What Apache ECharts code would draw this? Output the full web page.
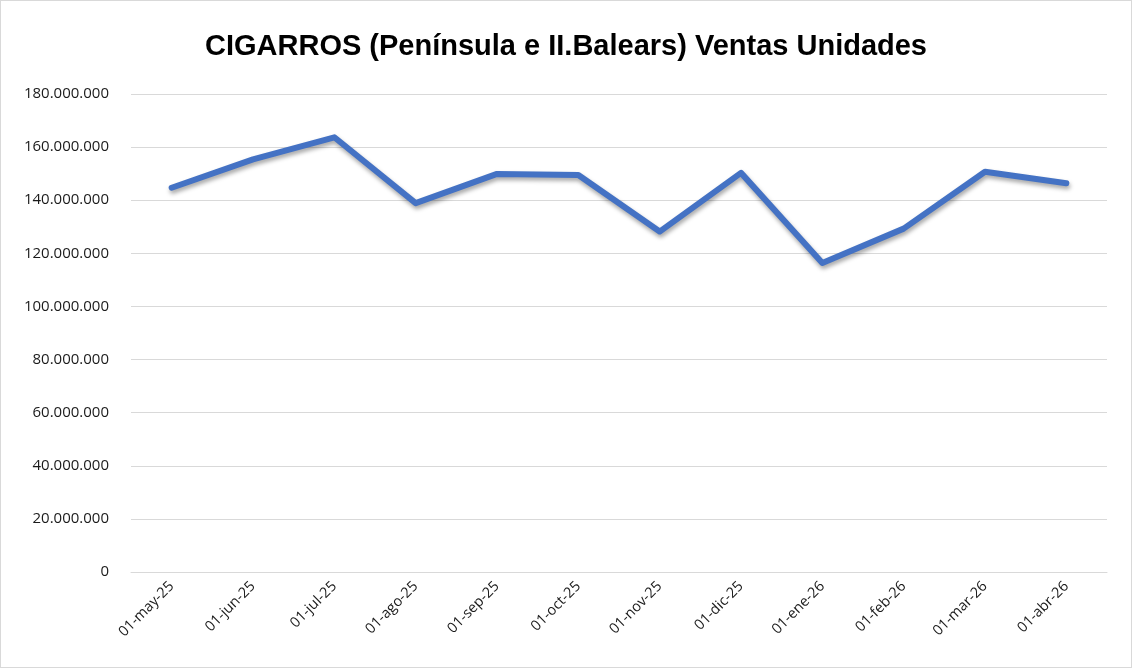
<!DOCTYPE html>
<html>
<head>
<meta charset="utf-8">
<script src="https://cdn.jsdelivr.net/npm/echarts@6/dist/echarts.min.js"></script>
<style>
  html, body { margin: 0; padding: 0; background: #fff; }
  #chart { width: 1132px; height: 668px; box-sizing: border-box; border: 1px solid #d9d9d9; }
</style>
</head>
<body>
<div id="chart"></div>
<script>
// chart data
const categories = ['01-may-25', '01-jun-25', '01-jul-25', '01-ago-25', '01-sep-25', '01-oct-25',
  '01-nov-25', '01-dic-25', '01-ene-26', '01-feb-26', '01-mar-26', '01-abr-26'];
const ventas = [144700000, 155400000, 163700000, 138900000, 149900000, 149500000,
  128200000, 150300000, 116400000, 129300000, 150700000, 146400000];
const yMax = 180000000;
const yStep = 20000000;

function fmtMiles(v) {
  return String(v).replace(/\B(?=(\d{3})+(?!\d))/g, '.');
}

const chart = echarts.init(document.getElementById('chart'));

chart.setOption({
  backgroundColor: '#fff',
  animation: false,
  title: {
    text: 'CIGARROS (Península e II.Balears) Ventas Unidades',
    left: 'center',
    top: 26,
    textStyle: {
      fontFamily: 'Liberation Sans, Arial, sans-serif',
      fontSize: 29,
      fontWeight: 'bold',
      color: '#000'
    }
  },
  grid: { left: 130, right: 24, top: 93, bottom: 95 },
  xAxis: {
    type: 'category',
    data: categories,
    boundaryGap: true,
    axisLine: { show: true, lineStyle: { color: '#d9d9d9', width: 1 } },
    axisTick: { show: false },
    axisLabel: {
      rotate: 45,
      margin: 12,
      color: '#1a1a1a',
      fontSize: 14.5,
      fontFamily: 'Open Sans, Liberation Sans, sans-serif'
    }
  },
  yAxis: {
    type: 'value',
    min: 0,
    max: yMax,
    interval: yStep,
    axisLine: { show: false },
    axisTick: { show: false },
    splitLine: { lineStyle: { color: '#d9d9d9', width: 1 } },
    axisLabel: {
      margin: 22,
      color: '#1a1a1a',
      fontSize: 15,
      fontFamily: 'Open Sans, Liberation Sans, sans-serif',
      formatter: fmtMiles
    }
  },
  series: [{
    type: 'line',
    data: ventas,
    symbol: 'none',
    lineStyle: {
      color: '#4472C4',
      width: 6,
      cap: 'round',
      join: 'round',
      shadowColor: 'rgba(0,0,0,0.35)',
      shadowBlur: 4,
      shadowOffsetY: 3,
      shadowOffsetX: 1
    }
  }]
});
</script>
</body>
</html>
